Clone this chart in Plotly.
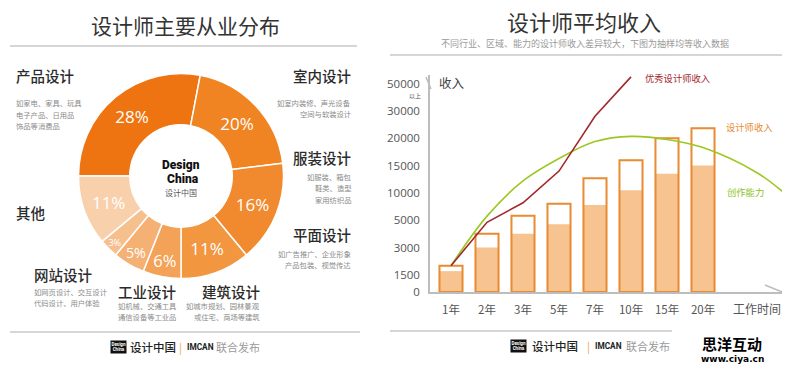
import numpy as np
import plotly.graph_objects as go

W, H = 800, 374
CJK = "Noto Sans CJK SC"

# ---------------- Left panel data: 设计师主要从业分布 ----------------
sectors = ["产品设计", "室内设计", "服装设计", "平面设计", "建筑设计", "工业设计", "网站设计", "其他"]
shares = [28, 20, 16, 11, 6, 5, 3, 11]
sector_notes = [
    ["如家电、家具、玩具", "电子产品、日用品", "饰品等消费品"],
    ["如室内装修、声光设备", "空间与软装设计"],
    ["如服装、箱包", "鞋类、造型", "家用纺织品"],
    ["如广告推广、企业形象", "产品包装、视觉传达"],
    ["如城市规划、园林景观", "或住宅、商场等建筑"],
    ["如机械、交通工具", "通信设备等工业品"],
    ["如网页设计、交互设计", "代码设计、用户体验"],
    [],
]
slice_colors = ["#ee7411", "#f08322", "#f18a2e", "#f2963f", "#f3a257", "#f5b073", "#f6bf8e", "#f8d0ab"]

# ---------------- Right panel data: 设计师平均收入 ----------------
years = ["1年", "2年", "3年", "5年", "7年", "10年", "15年", "20年"]
income_total = [2000, 4000, 5800, 8000, 12700, 16000, 20000, 23700]   # 设计师收入 (bar outline)
income_base = [1700, 3000, 4000, 4700, 7800, 10500, 13500, 15000]     # filled part
top_income = [2000, 4850, 8200, 14000, 28100, 55000]                   # 优秀设计师收入 (1年..10年)
ability_pos = [0, 1, 2, 3, 4, 5, 6, 7, 8.5, 9.2]                       # 创作能力 along 工作时间
ability = [2000, 5750, 12200, 16300, 19400, 20700, 19800, 18300, 13700, 10300]
y_tick_vals = [0, 1500, 3000, 5000, 10000, 15000, 20000, 30000, 50000]
y_tick_text = ["0", "1500", "3000", "5000", "10000", "15000", "20000", "30000", "50000"]
x_end_label = "工作时间"

# chart's own (non-linear, evenly spaced) income scale
y_tick_pos = [0.0] + [k - 0.37 for k in range(1, len(y_tick_vals))]


def level(values):
    v = np.asarray(values, dtype=float)
    out = np.interp(v, y_tick_vals, y_tick_pos)
    over = v > y_tick_vals[-1]
    step = y_tick_vals[-1] - y_tick_vals[-2]
    out[over] = y_tick_pos[-1] + (v[over] - y_tick_vals[-1]) / step
    return out


def px(x):
    return x / W


def py(y):
    return 1 - y / H


fig = go.Figure()

# donut
fig.add_trace(go.Pie(
    labels=sectors, values=shares, sort=False, direction="clockwise", rotation=270,
    hole=0.5, text=[f"{s}%" for s in shares], textinfo="text", textposition="inside",
    insidetextorientation="horizontal",
    textfont=dict(family="Open Sans", size=17, color="white"),
    marker=dict(colors=slice_colors, line=dict(color="white", width=1.5)),
    domain=dict(x=[px(181 - 102.5), px(181 + 102.5)], y=[py(176 + 102.5), py(176 - 102.5)]),
    hoverinfo="skip", showlegend=False,
))

idx = list(range(len(years)))
bar_orange = "#e88b31"
fig.add_trace(go.Bar(x=idx, y=level(income_base), width=0.64,
                     marker=dict(color="#f7c390", line=dict(width=0)),
                     xaxis="x", yaxis="y", showlegend=False, hoverinfo="skip"))
fig.add_trace(go.Bar(x=idx, y=level(income_total), width=0.64,
                     marker=dict(color="rgba(0,0,0,0)", line=dict(color=bar_orange, width=2)),
                     xaxis="x", yaxis="y", showlegend=False, hoverinfo="skip"))
fig.add_trace(go.Scatter(x=ability_pos, y=level(ability), mode="lines",
                         line=dict(color="#9cc823", width=1.6, shape="spline", smoothing=1.0),
                         xaxis="x", yaxis="y", showlegend=False, hoverinfo="skip"))
fig.add_trace(go.Scatter(x=idx[:len(top_income)], y=level(top_income), mode="lines",
                         line=dict(color="#a3282c", width=1.6),
                         xaxis="x", yaxis="y", showlegend=False, hoverinfo="skip"))

axis_gray = "#bdbdbd"
x0_px, xstep = 451, 36
fig.update_layout(
    width=W, height=H, margin=dict(l=0, r=0, t=0, b=0, pad=0, autoexpand=False),
    paper_bgcolor="white", plot_bgcolor="white", barmode="overlay",
    xaxis=dict(domain=[px(430), px(782)], range=[(430 - x0_px) / xstep, (782 - x0_px) / xstep],
               tickvals=idx, ticktext=years, showgrid=False, zeroline=False,
               showline=True, linecolor=axis_gray, linewidth=1.5, ticks="",
               ticklabelstandoff=6, automargin=False,
               tickfont=dict(family=CJK, size=11.5, color="#555")),
    yaxis=dict(domain=[py(292), py(75)], range=[0, 7.95],
               tickvals=y_tick_pos, ticktext=y_tick_text, showgrid=False, zeroline=False,
               showline=True, linecolor=axis_gray, linewidth=1.5, ticks="",
               ticklabelstandoff=6, automargin=False,
               tickfont=dict(family="Open Sans", size=11.5, color="#555")),
)

ann = []


def txt(x, y, text, size, color="#333", xanchor="left", family=CJK, weight="normal"):
    ann.append(dict(x=px(x), y=py(y), xref="paper", yref="paper", text=text, showarrow=False,
                    xanchor=xanchor, yanchor="middle",
                    font=dict(family=family, size=size, color=color, weight=weight)))


# titles
txt(185, 25, "设计师主要从业分布", 21, "#333", "center")
txt(584, 21, "设计师平均收入", 22, "#333", "center")
txt(585, 43, "不同行业、区域、能力的设计师收入差异较大，下图为抽样均等收入数据", 9, "#9a9a9a", "center")

# sector labels around the donut
label_layout = {
    "产品设计": (14, 75, "left", [103, 114.5, 126]),
    "室内设计": (353, 75, "right", [103, 114]),
    "服装设计": (353, 157, "right", [177, 188, 199.5]),
    "平面设计": (353, 235, "right", [254, 265]),
    "建筑设计": (262, 291, "right", [306, 317]),
    "工业设计": (116, 291, "left", [306, 317]),
    "网站设计": (32, 274, "left", [292, 303]),
    "其他": (14, 213, "left", []),
}
for name, notes in zip(sectors, sector_notes):
    lx, ly, anc, note_y = label_layout[name]
    txt(lx, ly, name, 14.5, "#2b2b2b", anc, weight=500)
    for line, ny in zip(notes, note_y):
        txt(lx, ny, line, 7.3, "#8a8a8a", anc)

# donut centre logo
txt(181, 165, "Design", 12, "#111", "center", family="Roboto", weight=900)
txt(183, 179, "China", 12, "#111", "center", family="Roboto", weight=900)
txt(181, 192, "设计中国", 8, "#555", "center")

# right chart texts
txt(437, 82, "收入", 12.5, "#444")
txt(423, 95, "以上", 6, "#555", "right")
txt(757, 308, x_end_label, 12, "#555", "center")
txt(643, 78, "优秀设计师收入", 9.3, "#a3282c")
txt(724, 127, "设计师收入", 9.3, "#e88b31")
txt(725, 192, "创作能力", 9.3, "#8fc21b")

# footers
for (lx, y) in [(110, 347), (510, 346)]:
    ann.append(dict(x=px(lx), y=py(y), xref="paper", yref="paper", showarrow=False,
                    text="Design<br>China", xanchor="left", yanchor="middle",
                    bgcolor="#111", borderpad=0.5,
                    font=dict(family="Roboto", size=4.5, color="white", weight="bold")))
txt(128, 347, "设计中国", 11.5, "#222", weight=500)
txt(180, 347, "|", 11, "#f0a040", "center")
txt(185, 347, "IMCAN", 8.3, "#222", family="Roboto", weight="bold")
txt(262, 347, "联合发布", 11, "#9a9a9a", "right")
txt(530, 346, "设计中国", 11.5, "#222", weight=500)
txt(588, 346, "|", 11, "#f0a040", "center")
txt(593, 346, "IMCAN", 8.3, "#222", family="Roboto", weight="bold")
txt(672, 346, "联合发布", 11, "#9a9a9a", "right")

# watermark
txt(732, 343, "思洋互动", 15, "#000", "center", family="Noto Sans CJK SC", weight="bold")
txt(732, 359, "www.ciya.cn", 9, "#000", "center", family="DejaVu Sans", weight="bold")

fig.update_layout(annotations=ann)

shapes = []


def seg(x0, y0, x1, y1, color="#c9c9c9", width=1.5):
    shapes.append(dict(type="line", xref="paper", yref="paper", x0=px(x0), y0=py(y0),
                       x1=px(x1), y1=py(y1), line=dict(color=color, width=width)))


seg(10, 46, 357, 46)
seg(390, 55, 782, 55)
seg(10, 332, 360, 332)
seg(390, 331, 672, 331)
seg(765, 285, 782, 292, axis_gray)
seg(426, 77, 431, 89, axis_gray)
fig.update_layout(shapes=shapes)

fig.write_html("out.html", config={"displayModeBar": False},
               post_script="document.body.style.margin='0';document.body.style.padding='0';")
